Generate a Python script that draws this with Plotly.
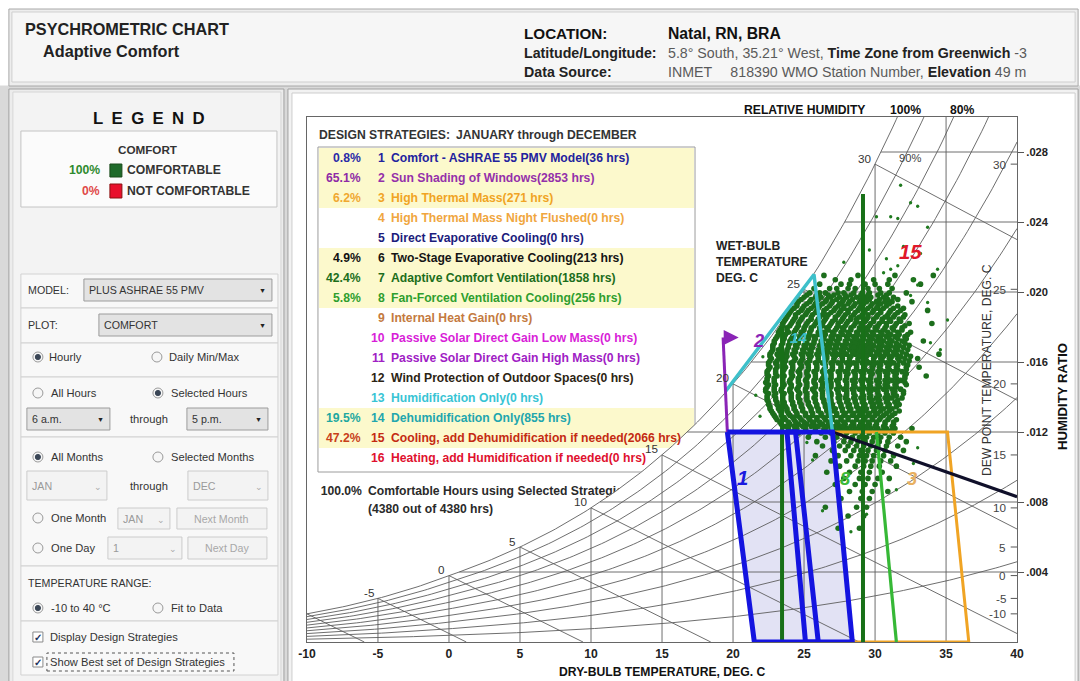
import math
import plotly.graph_objects as go

FONT = "Liberation Sans, Arial, Helvetica, sans-serif"
W, H = 1080, 681
# the page is shown slightly narrowed horizontally; layout positions below are
# given in window pixels and mapped here
SX, OX = 0.985, 9.1
SY, OY = 1.0, 0.0


def fs(size):
    return round(size / 0.985, 2)


# ------------------------------------------------------------------
# Psychrometric frame (Natal, RN, BRA - 49 m elevation)
# ------------------------------------------------------------------
STATION_PRESSURE_KPA = 100.74
DB_RANGE = [-10, 40]
W_RANGE = [0.0, 0.030]
db_ticks = [-10, -5, 0, 5, 10, 15, 20, 25, 30, 35, 40]
hr_ticks = [0.004, 0.008, 0.012, 0.016, 0.020, 0.024, 0.028]
hr_tick_text = [".004", ".008", ".012", ".016", ".020", ".024", ".028"]
dew_point_ticks = [-10, -5, 0, 5, 10, 15, 20, 25, 30]
wet_bulb_lines = [-10, -5, 0, 5, 10, 15, 20, 25, 30]
wet_bulb_labels = [-5, 0, 5, 10, 15, 20, 25, 30]
rh_curves = [0.1, 0.2, 0.3, 0.4, 0.5, 0.6, 0.7, 0.8, 0.9]
grid_db = [-5, 0, 5, 10, 15, 20, 25, 30, 35]

# ------------------------------------------------------------------
# Design strategy table
# ------------------------------------------------------------------
strategy_names = [
    "Comfort - ASHRAE 55 PMV Model",
    "Sun Shading of Windows",
    "High Thermal Mass",
    "High Thermal Mass Night Flushed",
    "Direct Evaporative Cooling",
    "Two-Stage Evaporative Cooling",
    "Adaptive Comfort Ventilation",
    "Fan-Forced Ventilation Cooling",
    "Internal Heat Gain",
    "Passive Solar Direct Gain Low Mass",
    "Passive Solar Direct Gain High Mass",
    "Wind Protection of Outdoor Spaces",
    "Humidification Only",
    "Dehumidification Only",
    "Cooling, add Dehumidification if needed",
    "Heating, add Humidification if needed",
]
strategy_hours = [36, 2853, 271, 0, 0, 213, 1858, 256, 0, 0, 0, 0, 0, 855, 2066, 0]
strategy_pct = [0.8, 65.1, 6.2, 0, 0, 4.9, 42.4, 5.8, 0, 0, 0, 0, 0, 19.5, 47.2, 0]
comfortable_pct = 100.0
comfortable_hours = 4380
total_hours = 4380

strategy_colors = ["#22229e", "#9430aa", "#f0a424", "#f0a640", "#1c1c7c", "#151515",
                   "#1c6e1c", "#2e9e2e", "#c47a40", "#d81ed8", "#a020c4", "#2c2414",
                   "#38c4d4", "#22a6ae", "#c42a12", "#e0102e"]
pct_colors = ["#2a2aa8", "#8e2aa6", "#f0a830", "#000", "#000", "#111111",
              "#1b6e1b", "#2e9e2e", "#000", "#000", "#000", "#000", "#000",
              "#1ea8a0", "#c8401a", "#000"]

# ------------------------------------------------------------------
# Strategy zones (dry bulb degC, humidity ratio kg/kg)
# ------------------------------------------------------------------
comfort_low_db = [19.6, 24.4, 26.0, 21.5]
comfort_high_db = [23.8, 27.0, 28.4, 25.1]
comfort_w = [0.0120, 0.0120, 0.0, 0.0]
thermal_mass_db = [27.0, 35.1, 36.6, 28.4]
thermal_mass_w = [0.0120, 0.0120, 0.0, 0.0]
ventilation_db = [23.45, 29.15]
ventilation_top_w = [0.0180, 0.0256]
fan_db = [30.1, 31.5]
fan_w = [0.0120, 0.0]
cooling_db = [27.0, 40.0]
cooling_w = [0.0120, 0.0083]
dehum_db = [19.45, 25.7, 27.0]
dehum_w = [0.0143, 0.0210, 0.0120]
shading_db = [19.6, 19.3]
shading_w = [0.0120, 0.0174]
shading_arrow_db = 20.4

# ------------------------------------------------------------------
# Hourly readings, 6 a.m. - 5 p.m. (humidity ratio in g/kg per row)
# ------------------------------------------------------------------
hour_row_w_gkg = [
    20.95, 20.7, 20.45, 20.2, 19.95, 19.7, 19.45, 19.2, 18.95, 18.7,
    18.45, 18.2, 17.95, 17.7, 17.45, 17.2, 16.95, 16.7, 16.45, 16.2,
    15.95, 15.7, 15.45, 15.2, 14.95, 14.7, 14.45, 14.2, 13.95, 13.7,
    13.45, 13.2, 12.95, 12.7, 12.45, 12.2, 11.95, 11.7, 11.45, 11.2,
    10.95, 10.65, 10.35, 10.05, 9.7, 9.35, 9.0, 8.6, 8.2, 7.7, 7.2, 6.5,
    19.825, 19.575, 19.325, 19.075, 18.825, 18.575, 18.325, 18.075,
    17.825, 17.575, 17.325, 17.075, 16.825, 16.575, 16.325, 16.075,
    15.825, 15.575, 15.325, 15.075, 14.825, 14.575, 14.325, 14.075,
    13.825, 13.575, 13.325, 13.075, 12.825, 12.575, 12.325, 12.075,
]
hour_row_db = [
    [26.4, 28.8, 31.4, 34.1],
    [27.2, 28.3, 29.9, 31.0, 32.7],
    [26.1, 27.6, 28.2, 29.3, 30.0, 30.9, 33.2],
    [25.7, 26.8, 27.3, 28.1, 28.6, 29.5, 30.3, 31.2],
    [25.4, 26.1, 26.5, 27.4, 27.8, 28.5, 29.1, 29.6, 30.4, 31.0, 32.2],
    [25.0, 25.8, 26.2, 26.9, 27.5, 28.0, 28.7, 29.3, 29.7, 30.6, 31.3],
    [24.6, 25.4, 25.9, 26.5, 27.0, 27.7, 28.2, 28.9, 29.4, 30.1, 30.7, 31.2, 32.6],
    [24.5, 25.0, 25.7, 26.1, 26.8, 27.4, 27.8, 28.5, 29.0, 29.7, 30.2, 30.8, 31.6],
    [24.1, 24.8, 25.3, 25.9, 26.4, 27.1, 27.6, 28.1, 28.8, 29.3, 29.9, 30.4, 31.1, 31.8, 33.7],
    [23.9, 24.4, 25.1, 25.6, 26.3, 26.7, 27.4, 27.9, 28.5, 29.1, 29.5, 30.2, 30.9, 31.4, 32.1],
    [23.7, 24.3, 24.8, 25.5, 26.0, 26.5, 27.2, 27.7, 28.3, 28.7, 29.4, 29.9, 30.5, 31.0, 31.7],
    [23.5, 24.1, 24.6, 25.2, 25.8, 26.3, 26.9, 27.4, 28.0, 28.6, 29.0, 29.7, 30.3, 30.8, 31.5, 32.4, 34.0],
    [23.4, 23.8, 24.5, 25.0, 25.5, 26.1, 26.6, 27.3, 27.7, 28.3, 28.9, 29.4, 30.0, 30.7, 31.2, 31.9],
    [23.2, 23.9, 24.3, 24.8, 25.4, 26.0, 26.4, 27.0, 27.6, 28.1, 28.7, 29.2, 29.8, 30.4, 30.9, 31.6, 32.5],
    [23.1, 23.6, 24.2, 24.7, 25.3, 25.7, 26.4, 26.9, 27.4, 28.0, 28.5, 29.1, 29.6, 30.2, 30.8, 31.4, 32.1],
    [22.9, 23.5, 24.0, 24.6, 25.1, 25.7, 26.2, 26.7, 27.3, 27.9, 28.4, 28.9, 29.5, 30.1, 30.6, 31.2, 31.9, 33.4],
    [22.8, 23.4, 23.9, 24.4, 25.0, 25.5, 26.1, 26.6, 27.2, 27.7, 28.3, 28.8, 29.4, 29.9, 30.5, 31.1, 31.7, 32.4],
    [22.8, 23.2, 23.8, 24.3, 24.9, 25.4, 26.0, 26.5, 27.1, 27.6, 28.2, 28.7, 29.3, 29.8, 30.4, 31.0, 31.6, 32.3],
    [22.6, 23.1, 23.7, 24.2, 24.8, 25.3, 25.9, 26.4, 27.0, 27.5, 28.0, 28.6, 29.2, 29.7, 30.3, 30.9, 31.5, 32.2, 34.5],
    [22.7, 23.3, 23.7, 24.4, 24.9, 25.4, 26.0, 26.6, 27.1, 27.7, 28.2, 28.8, 29.3, 29.9, 30.4, 31.0, 31.6, 32.1, 33.0],
    [22.5, 23.0, 23.6, 24.1, 24.7, 25.2, 25.8, 26.3, 26.9, 27.4, 28.0, 28.5, 29.1, 29.6, 30.2, 30.8, 31.3, 32.0],
    [22.6, 23.1, 23.7, 24.2, 24.8, 25.3, 25.9, 26.5, 27.0, 27.6, 28.1, 28.7, 29.2, 29.8, 30.3, 30.9, 31.5, 32.2, 33.1],
    [22.4, 23.0, 23.5, 24.1, 24.6, 25.2, 25.7, 26.3, 26.8, 27.4, 27.9, 28.5, 29.0, 29.6, 30.2, 30.7, 31.3, 31.9],
    [22.5, 23.1, 23.6, 24.2, 24.7, 25.3, 25.8, 26.4, 26.9, 27.5, 28.0, 28.6, 29.1, 29.7, 30.3, 30.8, 31.4, 32.1, 33.6],
    [22.4, 22.9, 23.5, 24.0, 24.6, 25.1, 25.7, 26.2, 26.8, 27.3, 27.9, 28.4, 29.0, 29.5, 30.1, 30.7, 31.2, 31.8],
    [22.5, 23.0, 23.6, 24.1, 24.7, 25.2, 25.8, 26.3, 26.9, 27.4, 28.0, 28.5, 29.1, 29.6, 30.2, 30.7, 31.4, 32.2],
    [22.3, 22.9, 23.4, 24.0, 24.5, 25.1, 25.6, 26.2, 26.7, 27.3, 27.8, 28.4, 28.9, 29.5, 30.0, 30.6, 31.2, 31.8],
    [22.5, 23.0, 23.6, 24.1, 24.7, 25.2, 25.8, 26.3, 26.9, 27.4, 28.0, 28.5, 29.1, 29.6, 30.2, 30.8, 31.3, 32.0],
    [22.4, 23.0, 23.5, 24.1, 24.6, 25.2, 25.7, 26.3, 26.8, 27.4, 27.9, 28.5, 29.0, 29.6, 30.1, 30.7, 31.2, 31.9],
    [22.5, 23.1, 23.6, 24.2, 24.7, 25.3, 25.8, 26.4, 26.9, 27.5, 28.0, 28.6, 29.1, 29.7, 30.2, 30.8, 31.4],
    [22.6, 23.2, 23.7, 24.3, 24.8, 25.4, 25.9, 26.5, 27.0, 27.6, 28.1, 28.7, 29.2, 29.8, 30.3, 30.9, 31.5],
    [22.7, 23.3, 23.8, 24.4, 24.9, 25.5, 26.0, 26.6, 27.1, 27.7, 28.2, 28.8, 29.3, 29.9, 30.4, 31.0, 31.7],
    [22.9, 23.4, 24.0, 24.5, 25.1, 25.6, 26.2, 26.7, 27.3, 27.8, 28.4, 28.9, 29.5, 30.0, 30.6, 31.2],
    [23.1, 23.7, 24.3, 24.8, 25.4, 25.9, 26.5, 27.0, 27.6, 28.1, 28.7, 29.2, 29.8, 30.3, 30.9, 31.5],
    [23.4, 24.0, 24.6, 25.2, 25.7, 26.3, 26.8, 27.4, 27.9, 28.5, 29.0, 29.6, 30.1, 30.7, 31.3],
    [23.9, 24.5, 25.1, 25.8, 26.4, 26.9, 27.5, 28.0, 28.6, 29.1, 29.7, 30.2, 30.8, 31.4, 32.6],
    [24.6, 25.4, 26.2, 26.9, 27.5, 28.0, 28.6, 29.1, 29.6, 30.2, 30.7, 31.3],
    [25.3, 26.5, 27.3, 27.9, 28.4, 28.9, 29.4, 29.9, 30.4, 31.0, 31.8],
    [25.9, 27.1, 27.8, 28.3, 28.8, 29.3, 29.8, 30.3, 30.9, 32.2],
    [26.3, 27.5, 28.1, 28.7, 29.2, 29.7, 30.2, 30.8, 31.6],
    [27.0, 27.9, 28.5, 29.0, 29.5, 30.1, 30.7, 32.0],
    [25.8, 27.4, 28.3, 28.9, 29.4, 29.9, 30.6, 31.3],
    [26.9, 28.0, 28.8, 29.3, 29.8, 30.4, 31.1],
    [27.5, 28.6, 29.2, 29.7, 30.3, 31.5],
    [26.6, 28.2, 29.0, 29.6, 30.5],
    [27.8, 28.9, 29.5, 30.2, 31.0],
    [27.2, 28.6, 29.3, 30.0],
    [28.2, 29.1, 29.8, 30.9],
    [27.6, 29.0, 29.6],
    [26.5, 28.7, 29.4],
    [28.1, 29.2],
    [27.4, 28.9],
    [25.2, 25.9, 26.7, 27.1, 27.9, 28.3, 29.0, 29.5, 30.2, 30.8],
    [24.8, 25.5, 26.0, 26.6, 27.3, 27.8, 28.4, 29.0, 29.6, 30.3, 30.9, 31.6],
    [24.5, 25.2, 25.8, 26.3, 26.9, 27.5, 28.1, 28.6, 29.2, 29.8, 30.4, 31.0],
    [24.3, 24.9, 25.5, 26.0, 26.6, 27.2, 27.8, 28.3, 28.9, 29.5, 30.1, 30.6, 31.3, 32.0],
    [24.0, 24.6, 25.2, 25.8, 26.4, 26.9, 27.5, 28.1, 28.6, 29.2, 29.8, 30.4, 31.0, 31.6],
    [23.8, 24.4, 24.9, 25.5, 26.1, 26.6, 27.2, 27.8, 28.3, 28.9, 29.5, 30.1, 30.7, 31.3, 32.0],
    [23.6, 24.2, 24.7, 25.3, 25.9, 26.4, 27.0, 27.6, 28.1, 28.7, 29.3, 29.9, 30.5, 31.1, 31.8],
    [23.5, 24.0, 24.6, 25.1, 25.7, 26.3, 26.8, 27.4, 27.9, 28.5, 29.1, 29.6, 30.2, 30.8, 31.4, 32.1],
    [23.3, 23.8, 24.4, 25.0, 25.5, 26.1, 26.7, 27.2, 27.8, 28.3, 28.9, 29.5, 30.1, 30.6, 31.3, 31.9],
    [23.2, 23.7, 24.3, 24.9, 25.4, 26.0, 26.5, 27.1, 27.7, 28.2, 28.8, 29.4, 29.9, 30.5, 31.1, 31.7, 32.3],
    [23.0, 23.6, 24.1, 24.7, 25.3, 25.8, 26.4, 27.0, 27.5, 28.1, 28.7, 29.2, 29.8, 30.4, 31.0, 31.6, 32.2],
    [22.9, 23.5, 24.0, 24.6, 25.2, 25.7, 26.3, 26.9, 27.4, 28.0, 28.6, 29.1, 29.7, 30.3, 30.9, 31.5, 32.1],
    [22.8, 23.4, 23.9, 24.5, 25.1, 25.6, 26.2, 26.8, 27.3, 27.9, 28.5, 29.0, 29.6, 30.2, 30.8, 31.4, 32.0],
    [22.7, 23.3, 23.8, 24.4, 25.0, 25.5, 26.1, 26.7, 27.2, 27.8, 28.4, 28.9, 29.5, 30.1, 30.7, 31.3, 31.9],
    [22.6, 23.2, 23.8, 24.3, 24.9, 25.5, 26.0, 26.6, 27.2, 27.7, 28.3, 28.9, 29.4, 30.0, 30.6, 31.2, 31.8, 32.5],
    [22.6, 23.1, 23.7, 24.3, 24.8, 25.4, 26.0, 26.5, 27.1, 27.7, 28.2, 28.8, 29.4, 29.9, 30.5, 31.1, 31.7, 32.4],
    [22.5, 23.1, 23.6, 24.2, 24.8, 25.3, 25.9, 26.5, 27.0, 27.6, 28.2, 28.7, 29.3, 29.9, 30.4, 31.0, 31.6, 32.3],
    [22.5, 23.0, 23.6, 24.2, 24.7, 25.3, 25.9, 26.4, 27.0, 27.6, 28.1, 28.7, 29.3, 29.8, 30.4, 31.0, 31.6, 32.2],
    [22.4, 23.0, 23.5, 24.1, 24.7, 25.2, 25.8, 26.4, 26.9, 27.5, 28.1, 28.6, 29.2, 29.8, 30.3, 30.9, 31.5, 32.2],
    [22.4, 22.9, 23.5, 24.1, 24.6, 25.2, 25.8, 26.3, 26.9, 27.5, 28.0, 28.6, 29.2, 29.7, 30.3, 30.9, 31.5, 32.1],
    [22.3, 22.9, 23.5, 24.0, 24.6, 25.2, 25.7, 26.3, 26.9, 27.4, 28.0, 28.6, 29.1, 29.7, 30.3, 30.9, 31.5, 32.1],
    [22.4, 22.9, 23.5, 24.1, 24.6, 25.2, 25.8, 26.3, 26.9, 27.5, 28.0, 28.6, 29.2, 29.7, 30.3, 30.9, 31.5],
    [22.3, 22.9, 23.4, 24.0, 24.6, 25.1, 25.7, 26.3, 26.8, 27.4, 28.0, 28.5, 29.1, 29.7, 30.2, 30.8, 31.4, 32.0],
    [22.4, 22.9, 23.5, 24.1, 24.6, 25.2, 25.8, 26.3, 26.9, 27.5, 28.0, 28.6, 29.2, 29.7, 30.3, 30.9, 31.5],
    [22.4, 23.0, 23.5, 24.1, 24.7, 25.2, 25.8, 26.4, 26.9, 27.5, 28.1, 28.6, 29.2, 29.8, 30.3, 30.9, 31.6],
    [22.5, 23.1, 23.6, 24.2, 24.8, 25.3, 25.9, 26.5, 27.0, 27.6, 28.2, 28.7, 29.3, 29.9, 30.4, 31.0, 31.7],
    [22.6, 23.2, 23.8, 24.3, 24.9, 25.5, 26.0, 26.6, 27.2, 27.7, 28.3, 28.9, 29.4, 30.0, 30.6, 31.2],
    [22.8, 23.4, 23.9, 24.5, 25.1, 25.6, 26.2, 26.8, 27.3, 27.9, 28.5, 29.0, 29.6, 30.2, 30.8, 31.4],
    [23.0, 23.6, 24.2, 24.7, 25.3, 25.9, 26.4, 27.0, 27.6, 28.1, 28.7, 29.3, 29.8, 30.4, 31.0],
    [23.3, 23.9, 24.4, 25.0, 25.6, 26.1, 26.7, 27.3, 27.8, 28.4, 29.0, 29.5, 30.1, 30.7, 31.3],
    [23.7, 24.3, 24.9, 25.5, 26.0, 26.6, 27.2, 27.7, 28.3, 28.9, 29.4, 30.0, 30.6, 31.2],
    [24.3, 25.1, 25.8, 26.5, 27.2, 27.8, 28.3, 28.9, 29.4, 30.0, 30.5, 31.1],
]
# isolated readings away from the main cloud
outlier_db = [31.8, 32.5, 33.0, 31.1, 31.6, 30.1, 33.7, 27.8, 30.6, 31.1, 31.6, 32.7,
              33.0, 34.4, 32.5, 33.7, 35.1, 33.9, 34.6, 30.8, 32.0, 33.2, 29.6, 21.6,
              21.9, 22.1, 25.2, 25.6, 26.3, 27.3, 33.0, 32.7, 31.5, 29.4, 28.3]
outlier_w_gkg = [26.1, 25.1, 24.9, 24.3, 24.2, 24.3, 23.7, 21.7, 21.1, 21.3, 21.5, 20.7,
                 20.4, 21.3, 19.8, 19.4, 18.4, 17.1, 16.7, 21.9, 22.6, 22.2, 22.4, 14.1,
                 12.9, 16.3, 11.4, 10.4, 7.5, 9.1, 11.1, 10.2, 8.7, 7.3, 6.3]


# ------------------------------------------------------------------
# Psychrometric relations
# ------------------------------------------------------------------
def p_ws(t):
    if t >= 0:
        return 0.61094 * math.exp(17.625 * t / (t + 243.04))
    return 0.61115 * math.exp(22.452 * t / (272.55 + t))


def w_at(t, rh=1.0):
    p = rh * p_ws(t)
    return 0.622 * p / (STATION_PRESSURE_KPA - p)


def t_sat(w):
    lo, hi = -40.0, 60.0
    for _ in range(60):
        mid = 0.5 * (lo + hi)
        if w_at(mid) < w:
            lo = mid
        else:
            hi = mid
    return 0.5 * (lo + hi)


def w_wetbulb(t, twb):
    ws = w_at(twb)
    return ((2501 - 2.326 * twb) * ws - 1.006 * (t - twb)) / (2501 + 1.86 * t - 4.186 * twb)


# window-pixel -> paper helpers
def fx(x):
    return (x - OX) / SX / W


def fy(y):
    return 1 - (y - OY) / SY / H


X0, X1, Y0, Y1 = 307, 1017, 642, 117   # chart frame in window pixels


def px_to_db(x):
    return DB_RANGE[0] + (x - X0) / (X1 - X0) * (DB_RANGE[1] - DB_RANGE[0])


def px_to_w(y):
    return W_RANGE[0] + (Y0 - y) / (Y0 - Y1) * (W_RANGE[1] - W_RANGE[0])


shapes = []
annotations = []


def rect(x0, y0, x1, y1, fill, line="#c4c4c4", lw=1, dash=None):
    ln = dict(color=line, width=lw)
    if dash:
        ln["dash"] = dash
    shapes.append(dict(type="rect", xref="paper", yref="paper", x0=fx(x0), x1=fx(x1),
                       y0=fy(y1), y1=fy(y0), fillcolor=fill, line=ln, layer="below"))


def circle(x, y, r, fill, line="#8e8e8e", lw=1):
    shapes.append(dict(type="circle", xref="paper", yref="paper", x0=fx(x - r), x1=fx(x + r),
                       y0=fy(y + r), y1=fy(y - r), fillcolor=fill,
                       line=dict(color=line, width=lw), layer="below"))


def label(x, y, s, size=10.5, color="#333333", anchor="left", bold=False, italic=False,
          angle=0, family=FONT):
    annotations.append(dict(xref="paper", yref="paper", x=fx(x), y=fy(y), text=s,
                            showarrow=False, xanchor=anchor, yanchor="middle",
                            textangle=angle, borderpad=0,
                            font=dict(size=fs(size), color=color, family=family,
                                      weight="bold" if bold else "normal",
                                      style="italic" if italic else "normal")))


def radio(x, y, on):
    circle(x, y, 5, "#f6f6f6", "#9a9a9a")
    if on:
        circle(x, y, 2.6, "#3a4656", "#3a4656")


def checkbox(x, y):
    rect(x - 5, y - 5, x + 5, y + 5, "#ffffff", "#8a8a8a")
    label(x, y, "✓", size=10, color="#22345e", anchor="center", bold=True)


def dropdown(x0, y0, x1, y1, s, enabled=True):
    rect(x0, y0, x1, y1, "#e3e3e3" if enabled else "#f3f3f3",
         "#9c9c9c" if enabled else "#cccccc")
    label(x0 + 4, (y0 + y1) / 2, s, size=10.5, color="#333" if enabled else "#9a9a9a")
    label(x1 - 9, (y0 + y1) / 2 + 1, "▼" if enabled else "⌄", size=7 if enabled else 9,
          color="#222" if enabled else "#aaa", anchor="center")


def button(x0, y0, x1, y1, s):
    rect(x0, y0, x1, y1, "#f3f3f3", "#cccccc")
    label((x0 + x1) / 2, (y0 + y1) / 2, s, size=10.5, color="#a8a8a8", anchor="center")


# ------------------------------------------------------------------
# Window chrome: header, control panel, chart panel
# ------------------------------------------------------------------
rect(0, 86, 1090, 690, "#d9d9d9", "#d9d9d9")
rect(9, 9, 1078, 86, "#ededed", "#a8a8a8")
rect(12, 12, 1075, 82, "#f6f6f6", "#cfcfcf")
rect(9, 89, 284, 690, "#ececec", "#a0a0a0")
rect(13, 92, 281, 690, "#f3f3f3", "#d6d6d6")
rect(288, 89, 1078, 690, "#f2f2f2", "#a0a0a0")
rect(292, 93, 1075, 690, "#ffffff", "#cdcdcd")

label(24, 29, "PSYCHROMETRIC CHART", size=16, color="#222", bold=True)
label(42, 51, "Adaptive Comfort", size=16, color="#222", bold=True)
label(523, 33, "LOCATION:", size=15, color="#111", bold=True)
label(667, 33, "Natal, RN, BRA", size=15.5, color="#111", bold=True)
label(523, 53, "Latitude/Longitude:", size=14, color="#222", bold=True)
label(667, 53, "<span style='color:#5a5a5a'>5.8° South, 35.21° West, </span>"
               "<b>Time Zone from Greenwich</b><span style='color:#5a5a5a'> -3</span>",
      size=14, color="#222")
label(523, 72, "Data Source:", size=14, color="#222", bold=True)
label(667, 72, "<span style='color:#5a5a5a'>INMET\u2003 818390 WMO Station Number, </span>"
               "<b>Elevation</b><span style='color:#5a5a5a'> 49 m</span>",
      size=14, color="#222")

# legend
label(149, 118, "L\u2002E\u2002G\u2002E\u2002N\u2002D", size=16.5, color="#111",
      anchor="center", bold=True)
rect(21, 131, 277, 207, "#fbfbfb", "#c4c4c4")
label(148, 149, "COMFORT", size=11.5, color="#333", anchor="center", bold=True)
label(101, 170, "100%", size=12, color="#2e8a2e", anchor="right", bold=True)
rect(110, 164, 122, 177, "#1f6a2a", "#1a4a1a")
label(126, 170, "COMFORTABLE", size=12, color="#333", bold=True)
label(101, 191, "0%", size=12, color="#e04848", anchor="right", bold=True)
rect(110, 184, 122, 198, "#e8102c", "#8a1010")
label(126, 191, "NOT COMFORTABLE", size=12, color="#333", bold=True)

# control boxes
rect(21, 274, 278, 308, "#f8f8f8", "#d2d2d2")
label(27, 290, "MODEL:", size=10.5)
dropdown(84, 279, 272, 301, "PLUS ASHRAE 55 PMV")
rect(21, 308, 278, 343, "#f8f8f8", "#d2d2d2")
label(27, 325, "PLOT:", size=10.5)
dropdown(99, 314, 272, 336, "COMFORT")
rect(21, 343, 278, 377, "#f8f8f8", "#d2d2d2")
radio(38, 357, True)
label(48, 357, "Hourly", size=11)
radio(157, 357, False)
label(168, 357, "Daily Min/Max", size=11)
rect(21, 377, 278, 437, "#f8f8f8", "#d2d2d2")
radio(38, 393, False)
label(50, 393, "All Hours", size=11)
radio(158, 393, True)
label(170, 393, "Selected Hours", size=11)
dropdown(27, 408, 110, 430, "6 a.m.")
label(129, 419, "through", size=11)
dropdown(187, 408, 268, 430, "5 p.m.")
rect(21, 437, 278, 566, "#f8f8f8", "#d2d2d2")
radio(38, 457, True)
label(50, 457, "All Months", size=11)
radio(158, 457, False)
label(170, 457, "Selected Months", size=11)
dropdown(27, 471, 107, 500, "JAN", enabled=False)
label(129, 486, "through", size=11)
dropdown(188, 471, 268, 500, "DEC", enabled=False)
radio(38, 518, False)
label(50, 518, "One Month", size=11)
dropdown(118, 508, 170, 529, "JAN", enabled=False)
button(177, 508, 267, 529, "Next Month")
radio(38, 548, False)
label(50, 548, "One Day", size=11)
dropdown(108, 537, 182, 559, "1", enabled=False)
button(188, 537, 267, 559, "Next Day")
rect(21, 566, 278, 621, "#f8f8f8", "#d2d2d2")
label(27, 583, "TEMPERATURE RANGE:", size=10.5)
radio(38, 608, True)
label(50, 608, "-10 to 40 °C", size=11)
radio(158, 608, False)
label(170, 608, "Fit to Data", size=11)
rect(21, 621, 278, 675, "#f8f8f8", "#d2d2d2")
checkbox(38, 637)
label(49, 637, "Display Design Strategies", size=11)
checkbox(38, 662)
rect(47, 653, 234, 671, "rgba(0,0,0,0)", "#555555", 1, "dot")
label(49, 662, "Show Best set of Design Strategies", size=11)

# strategy table box inside the chart frame
BOX_L, BOX_T, BOX_R, BOX_B = 318, 147, 695, 472
ROW0, ROW_H = 158, 20
rect(BOX_L, BOX_T, BOX_R, BOX_B, "#ffffff", "#9c9c9c")
for i, hrs in enumerate(strategy_hours):
    if hrs > 0:
        rect(BOX_L + 1, ROW0 + ROW_H * i - 10, BOX_R - 1, ROW0 + ROW_H * i + 10,
             "#fcf9cc", "rgba(0,0,0,0)", 0)
label(BOX_L, 135, "DESIGN STRATEGIES:\u2002JANUARY through DECEMBER", size=12,
      color="#333", bold=True)
for i, name in enumerate(strategy_names):
    yy = ROW0 + ROW_H * i
    if strategy_hours[i] > 0:
        label(362, yy, f"{strategy_pct[i]:.1f}%", size=12, color=pct_colors[i],
              anchor="right", bold=True)
    label(386, yy, str(i + 1), size=12, color=strategy_colors[i], anchor="right", bold=True)
    label(390, yy, f"{name}({strategy_hours[i]} hrs)", size=12, color=strategy_colors[i],
          bold=True)

# ------------------------------------------------------------------
# Chart traces
# ------------------------------------------------------------------
fig = go.Figure()

# summary line (drawn first so the chart body clips it)
fig.add_trace(go.Scatter(
    x=[px_to_db(362), px_to_db(368), px_to_db(368)],
    y=[px_to_w(492), px_to_w(492), px_to_w(510)],
    mode="text",
    text=[f"{comfortable_pct:.1f}%", "Comfortable Hours using Selected Strategies",
          f"({comfortable_hours} out of {total_hours} hrs)"],
    textposition=["middle left", "middle right", "middle right"],
    textfont=dict(family=FONT, size=fs(12), color="#2a2a2a", weight="bold"),
    hoverinfo="skip", showlegend=False))

# chart body (below the saturation curve)
t_top = t_sat(W_RANGE[1])
body_x, body_y = [DB_RANGE[0]], [0.0]
n = 240
for k in range(n + 1):
    t = DB_RANGE[0] + (t_top - DB_RANGE[0]) * k / n
    body_x.append(t)
    body_y.append(w_at(t))
body_x += [DB_RANGE[1], DB_RANGE[1], DB_RANGE[0]]
body_y += [W_RANGE[1], 0.0, 0.0]
fig.add_trace(go.Scatter(x=body_x, y=body_y, mode="lines", fill="toself",
                         fillcolor="#ffffff", line=dict(width=0),
                         hoverinfo="skip", showlegend=False))

# comfort zone shading
for zdb in (comfort_low_db, comfort_high_db):
    fig.add_trace(go.Scatter(x=zdb + [zdb[0]], y=comfort_w + [comfort_w[0]], mode="lines",
                             fill="toself", fillcolor="#e2e2f4", line=dict(width=0),
                             hoverinfo="skip", showlegend=False))

# psychrometric grid
gx, gy = [], []


def seg(pts):
    for p in pts:
        gx.append(p[0])
        gy.append(p[1])
    gx.append(None)
    gy.append(None)


ts = [DB_RANGE[0] + 0.25 * k for k in range(201)]
seg([(t, w_at(t)) for t in ts])
for rh in rh_curves:
    seg([(t, w_at(t, rh)) for t in ts])
for twb in wet_bulb_lines:
    ws = w_at(twb)
    t_end = min(twb + (2501 - 2.326 * twb) * ws / 1.006, DB_RANGE[1])
    seg([(twb, ws), (t_end, max(w_wetbulb(t_end, twb), 0.0))])
for t in grid_db:
    seg([(t, 0.0), (t, min(w_at(t), W_RANGE[1]))])
for w in hr_ticks:
    seg([(t_sat(w), w), (DB_RANGE[1], w)])
fig.add_trace(go.Scatter(x=gx, y=gy, mode="lines", line=dict(color="#5e5e5e", width=0.9),
                         hoverinfo="skip", showlegend=False))

# hourly readings
pts_db, pts_w = [], []
for wg, row in zip(hour_row_w_gkg, hour_row_db):
    for t in row:
        pts_db.append(t)
        pts_w.append(wg / 1000.0)
fig.add_trace(go.Scatter(x=pts_db, y=pts_w, mode="markers",
                         marker=dict(size=5.6, color="#1c6e1c"),
                         hoverinfo="skip", showlegend=False))
fig.add_trace(go.Scatter(x=outlier_db, y=[v / 1000.0 for v in outlier_w_gkg], mode="markers",
                         marker=dict(size=3.3, color="#1f7a1f"),
                         hoverinfo="skip", showlegend=False))


def zone_line(xs, ys, color, width, close=False):
    if close:
        xs = xs + [xs[0]]
        ys = ys + [ys[0]]
    fig.add_trace(go.Scatter(x=xs, y=ys, mode="lines",
                             line=dict(color=color, width=width),
                             hoverinfo="skip", showlegend=False))


zone_line(thermal_mass_db, thermal_mass_w, "#f0a424", 3, close=True)
zone_line(fan_db, fan_w, "#36b836", 3.2)
for t, wt in zip(ventilation_db, ventilation_top_w):
    zone_line([t, t], [0.0, wt], "#187018", 4)
zone_line(dehum_db, dehum_w, "#3ec0ca", 3.5)
zone_line(shading_db, shading_w, "#8a24b6", 3)
zone_line(cooling_db, cooling_w, "#10102a", 3.2)
zone_line(comfort_low_db, comfort_w, "#1414e0", 5, close=True)
zone_line(comfort_high_db, comfort_w, "#1414e0", 5, close=True)

# arrow of the shading zone
annotations.append(dict(x=shading_arrow_db, y=shading_w[1], ax=shading_db[1], ay=shading_w[1],
                        xref="x", yref="y", axref="x", ayref="y", text="", showarrow=True,
                        arrowhead=2, arrowsize=1, arrowwidth=3, arrowcolor="#8a24b6"))

# zone numbers
zone_labels = [("1", 742, 478, "#1a1ae0", 20), ("2", 758, 340, "#8a24b6", 18),
               ("14", 798, 337, "#3ec0ca", 15), ("8", 845, 478, "#3aba3a", 18),
               ("3", 912, 478, "#e8b060", 18), ("15", 910, 252, "#e0182a", 20)]
for s, lx, ly, col, sz in zone_labels:
    annotations.append(dict(x=px_to_db(lx), y=px_to_w(ly), xref="x", yref="y", text=s,
                            showarrow=False, font=dict(family=FONT, size=fs(sz), color=col,
                                                       weight="bold", style="italic")))

# wet-bulb labels along the saturation curve
for twb in wet_bulb_labels:
    annotations.append(dict(x=twb, y=w_at(twb), xref="x", yref="y", text=str(twb),
                            showarrow=False, xanchor="right", yanchor="middle",
                            xshift=-2, yshift=6,
                            font=dict(family=FONT, size=fs(11.5), color="#333")))

# dew point scale along the right edge
for tdp in dew_point_ticks:
    wd = w_at(tdp)
    annotations.append(dict(x=DB_RANGE[1], y=wd, xref="x", yref="y", text=str(tdp),
                            showarrow=False, xanchor="right", yanchor="middle", xshift=-9,
                            font=dict(family=FONT, size=fs(11.5), color="#444")))
    shapes.append(dict(type="line", xref="x", yref="y", x0=DB_RANGE[1] - 0.45,
                       x1=DB_RANGE[1], y0=wd, y1=wd, line=dict(color="#555", width=1)))

# chart texts
label(715, 262, "WET-BULB<br>TEMPERATURE<br>DEG. C", size=12, color="#222", bold=True)
annotations[-1]["align"] = "left"
label(805, 110, "RELATIVE HUMIDITY", size=12, color="#111", anchor="center", bold=True)
label(905, 110, "100%", size=12, color="#111", anchor="center", bold=True)
label(962, 110, "80%", size=12, color="#111", anchor="center", bold=True)
label(910, 158, "90%", size=11, color="#444", anchor="center")
label(662, 672, "DRY-BULB TEMPERATURE, DEG. C", size=12, color="#111", anchor="center",
      bold=True)
label(987, 370, "DEW POINT TEMPERATURE, DEG. C", size=12, color="#333", anchor="center",
      angle=-90)
label(1062, 397, "HUMIDITY RATIO", size=13, color="#111", anchor="center", bold=True,
      angle=-90)

fig.update_layout(
    width=W, height=H,
    margin=dict(l=0, r=0, t=0, b=0),
    paper_bgcolor="#ffffff",
    plot_bgcolor="rgba(0,0,0,0)",
    showlegend=False,
    shapes=shapes,
    annotations=annotations,
    xaxis=dict(domain=[fx(X0), fx(X1)], range=DB_RANGE, showgrid=False, zeroline=False,
               showline=True, linecolor="#666", linewidth=1, mirror=True,
               tickmode="array", tickvals=db_ticks, ticktext=[str(v) for v in db_ticks],
               ticks="", tickfont=dict(family=FONT, size=fs(12), color="#222", weight="bold"),
               fixedrange=True),
    yaxis=dict(domain=[fy(Y0), fy(Y1)], range=W_RANGE, side="right",
               showgrid=False, zeroline=False, showline=True, linecolor="#666",
               linewidth=1, mirror=True, tickmode="array", tickvals=hr_ticks,
               ticktext=hr_tick_text, ticks="outside", ticklen=6, tickcolor="#555",
               tickfont=dict(family=FONT, size=fs(11), color="#222", weight="bold"),
               fixedrange=True),
)

fig.write_html("out.html")
